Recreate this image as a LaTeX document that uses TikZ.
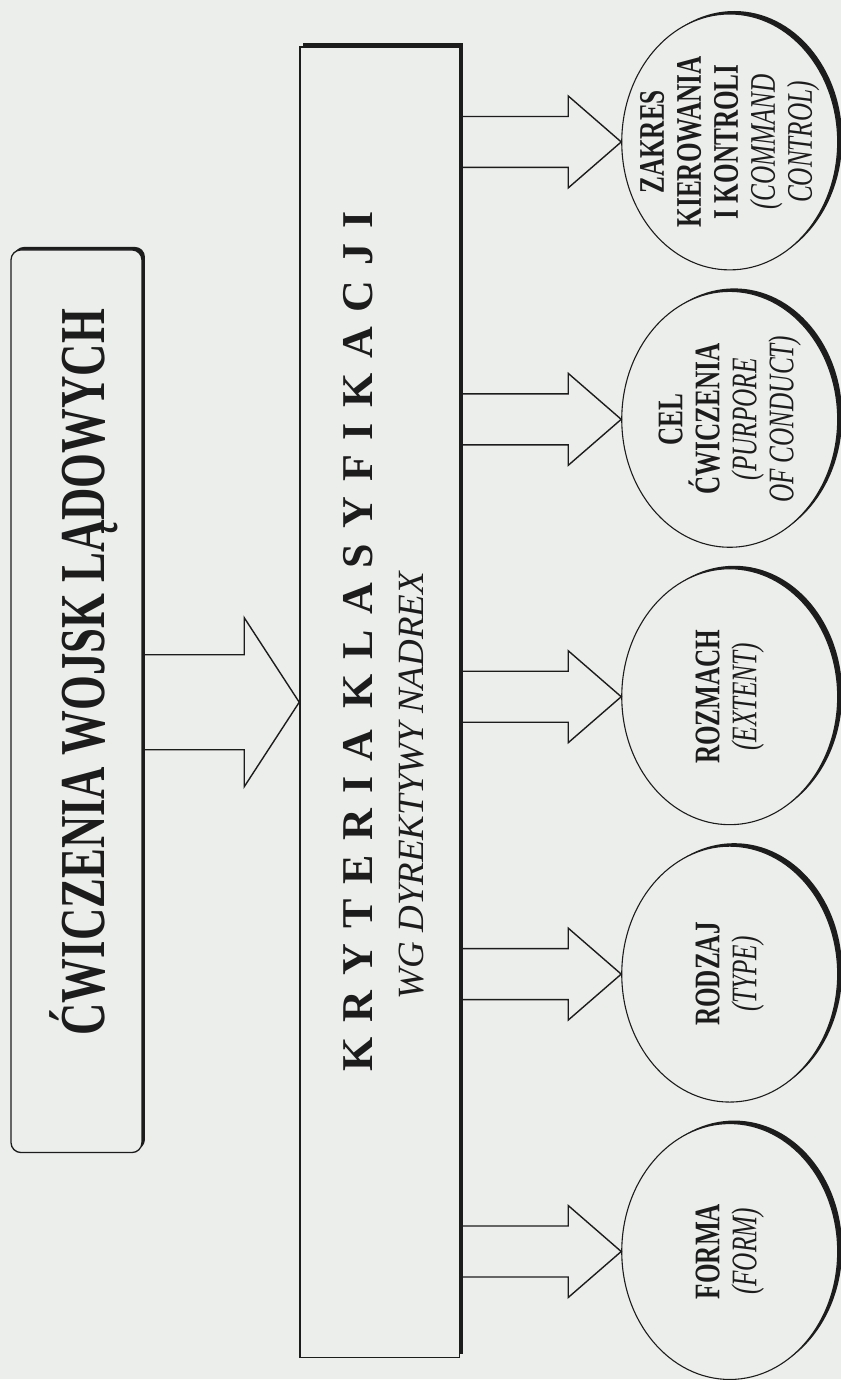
\documentclass[tikz,border=0pt]{standalone}
\usepackage{fontspec}
\setmainfont{Liberation Serif}[FakeStretch=0.7]
\newfontfamily\plainserif{Liberation Serif}
\usepackage{xcolor}
\usetikzlibrary{shapes.geometric, shadows, calc, positioning}
\definecolor{paper}{HTML}{ECEEEB}
\definecolor{ink}{HTML}{1C1C1C}

% block arrow: from, to, shaft half, head half, head length
\newcommand{\blockarrow}[5]{%
  \draw[arrowline] let \p1=(#1), \p2=(#2) in
    (\x1,\y2+#3pt) -- (\x2-#5pt,\y2+#3pt) -- (\x2-#5pt,\y2+#4pt) -- (\x2,\y2)
    -- (\x2-#5pt,\y2-#4pt) -- (\x2-#5pt,\y2-#3pt) -- (\x1,\y2-#3pt);}

\begin{document}
\begin{tikzpicture}[x=1pt, y=-1pt,
    groupbox/.style={draw=ink, fill=paper, line width=1.3pt, rounded corners=10pt, minimum width=131pt, minimum height=903pt, drop shadow={shadow xshift=3pt, shadow yshift=3pt, fill=ink, opacity=1}},
    critbox/.style={draw=ink, fill=paper, line width=1.3pt, minimum width=160pt, minimum height=1311pt, drop shadow={shadow xshift=3pt, shadow yshift=3.5pt, fill=ink, opacity=1}},
    aspect/.style={ellipse, draw=ink, fill=paper, line width=1.1pt, minimum width=216pt, minimum height=256pt, drop shadow={shadow xshift=4.5pt, shadow yshift=3pt, fill=ink, opacity=1}},
    vtext/.style={rotate=90, align=center, text=ink, inner sep=0pt},
    aspecttext/.style={vtext, font=\fontsize{36}{37}\selectfont},
    arrowline/.style={draw=ink, line width=1.4pt, line join=miter}
]
    % Paper
    \fill[paper] (0,0) rectangle (841,1380);

    % Left box
    \node[groupbox] (ww) at (76.5,701.5) {};
    \node[vtext, anchor=west, font=\fontsize{64}{70}\selectfont\bfseries] (wwtext) at (84,1036) {ĆWICZENIA WOJSK LĄDOWYCH};

    % Middle box
    \node[critbox] (crit) at (380,702.5) {};
    \node[vtext, anchor=west, font=\fontsize{44}{50}\plainserif\bfseries] (crittitle) at (358,1072)
        {\spaceskip=15pt K R Y T E R I A\hspace{6pt} K L A S Y F I K A C J I};
    \node[vtext, anchor=west, font=\fontsize{37}{42}\plainserif\itshape] (critsub) at (412,1000) {WG DYREKTYWY NADREX};

    % Aspect ellipses
    \node[aspect] (e1) at (730,142) {};
    \node[aspect] (e2) at (730,419.5) {};
    \node[aspect] (e3) at (730,697) {};
    \node[aspect] (e4) at (730,974.5) {};
    \node[aspect] (e5) at (730,1252) {};

    \node[aspecttext] (e1text) at (e1) {\textbf{ZAKRES}\\\textbf{KIEROWANIA}\\\textbf{I KONTROLI}\\\textit{(COMMAND}\\\textit{CONTROL)}};
    \node[aspecttext] (e2text) at (e2) {\textbf{CEL}\\\textbf{ĆWICZENIA}\\\textit{(PURPORE}\\\textit{OF CONDUCT)}};
    \node[aspecttext] (e3text) at (e3) {\textbf{ROZMACH}\\\textit{(EXTENT)}};
    \node[aspecttext] (e4text) at (e4) {\textbf{RODZAJ}\\\textit{(TYPE)}};
    \node[aspecttext] (e5text) at (e5) {\textbf{FORMA}\\\textit{(FORM)}};

    % Arrows
    \blockarrow{ww.east}{crit.west}{47.5}{84.5}{55}
    \blockarrow{crit.east}{e1.west}{25.5}{46}{53}
    \blockarrow{crit.east}{e2.west}{25.5}{46}{53}
    \blockarrow{crit.east}{e3.west}{25.5}{46}{53}
    \blockarrow{crit.east}{e4.west}{25.5}{46}{53}
    \blockarrow{crit.east}{e5.west}{25.5}{46}{53}
\end{tikzpicture}
\end{document}
